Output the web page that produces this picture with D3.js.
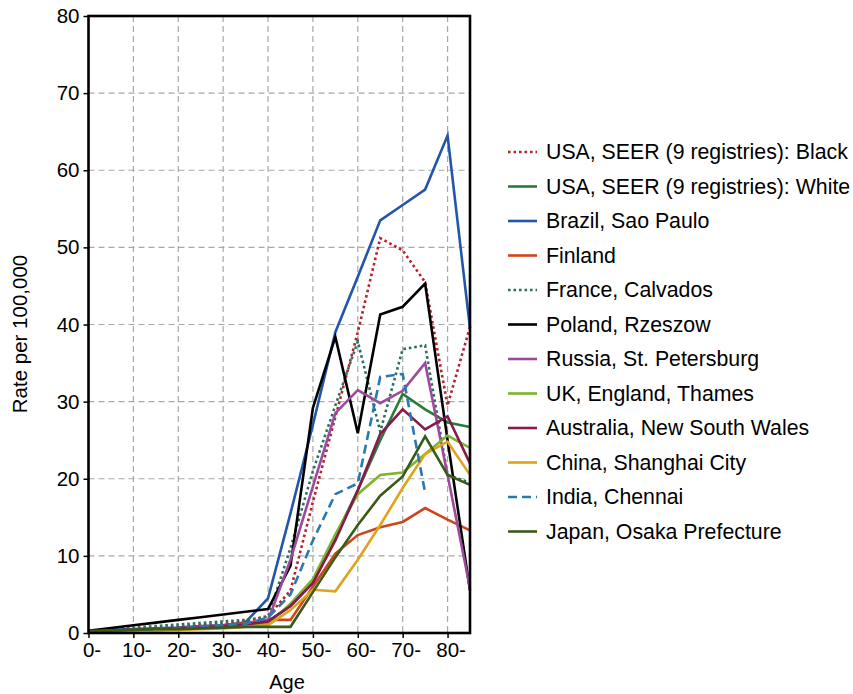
<!DOCTYPE html>
<html>
<head>
<meta charset="utf-8">
<script src="https://cdn.jsdelivr.net/npm/d3@7"></script>
<style>
  html, body { margin: 0; padding: 0; background: #fff; }
  svg { display: block; font-family: "Liberation Sans", Arial, sans-serif; }
</style>
</head>
<body>
<svg id="chart" width="853" height="694"></svg>
<script>
// Age groups (start of each 5-year band)
const ages = [0, 5, 10, 15, 20, 25, 30, 35, 40, 45, 50, 55, 60, 65, 70, 75, 80, 85];
const xTickValues = [0, 10, 20, 30, 40, 50, 60, 70, 80];
const xTickLabels = ["0-", "10-", "20-", "30-", "40-", "50-", "60-", "70-", "80-"];
const yTickValues = [0, 10, 20, 30, 40, 50, 60, 70, 80];

// Rates per 100,000 by age group
const usaBlack   = [0.3, 0.4, 0.5, 0.6, 0.8, 1.0, 1.2, 1.5, 2.2, 5.5, 17, 28, 39, 51.2, 49.6, 45.5, 29.5, 39.7];
const usaWhite   = [0.2, 0.2, 0.3, 0.4, 0.5, 0.6, 0.8, 1.0, 1.5, 3.5, 6.5, 12.5, 18.5, 25, 31, 29, 27.3, 26.7];
const brazil     = [0.3, 0.4, 0.5, 0.6, 0.7, 0.9, 1.0, 1.4, 4.5, 15.5, 27, 39, 46.2, 53.5, 55.5, 57.5, 64.5, 39.5];
const finland    = [0.2, 0.3, 0.4, 0.5, 0.6, 0.8, 1.0, 1.3, 1.7, 1.7, 6.0, 10.3, 12.7, 13.7, 14.4, 16.2, 14.7, 13.3];
const france     = [0.3, 0.5, 0.7, 0.9, 1.1, 1.3, 1.5, 1.7, 2.1, 11, 21, 29.5, 37.8, 26.1, 36.8, 37.3, 20.5, 19.5];
const poland     = [0.3, 0.65, 1.0, 1.35, 1.7, 2.05, 2.4, 2.75, 3.1, 8.7, 29.2, 38.4, 25.9, 41.3, 42.3, 45.3, 25, 5.5];
const russia     = [0.2, 0.3, 0.4, 0.5, 0.6, 0.8, 1.0, 1.2, 1.6, 9.5, 19, 28.5, 31.5, 29.8, 31.4, 35, 20.5, 5.8];
const ukThames   = [0.2, 0.2, 0.3, 0.4, 0.5, 0.6, 0.7, 0.9, 1.2, 3.8, 7, 12.8, 18, 20.5, 20.8, 23.2, 25.6, 24];
const australia  = [0.2, 0.3, 0.4, 0.5, 0.6, 0.7, 0.9, 1.1, 1.5, 3.5, 6.5, 12, 18.5, 25.8, 29, 26.4, 28.1, 22];
const china      = [0.1, 0.2, 0.2, 0.3, 0.4, 0.5, 0.6, 0.8, 1.0, 3.0, 5.6, 5.4, 9.5, 14, 18.8, 23.2, 24.8, 20.5];
const india      = [0.2, 0.3, 0.4, 0.5, 0.6, 0.8, 1.0, 1.2, 2.0, 5.0, 12, 18, 19.4, 33.2, 33.6, 18.2, null, null];
const japan      = [0.3, 0.3, 0.4, 0.5, 0.5, 0.6, 0.7, 0.8, 0.8, 0.8, 5.3, 9.8, 14, 17.8, 20.3, 25.5, 20.5, 19.2];

const seriesNames = [
  "USA, SEER (9 registries): Black",
  "USA, SEER (9 registries): White",
  "Brazil, Sao Paulo",
  "Finland",
  "France, Calvados",
  "Poland, Rzeszow",
  "Russia, St. Petersburg",
  "UK, England, Thames",
  "Australia, New South Wales",
  "China, Shanghai City",
  "India, Chennai",
  "Japan, Osaka Prefecture"
];
const seriesValues = [usaBlack, usaWhite, brazil, finland, france, poland, russia, ukThames, australia, china, india, japan];
const seriesColors = ["#b5222a", "#2a7b35", "#2356a8", "#cc461c", "#2e6e5c", "#000000",
                      "#9c4a9e", "#7ab52a", "#861a4c", "#e2a21e", "#2a78b0", "#3a5a18"];
const seriesDash   = ["2.6,2.9", null, null, null, "2.6,2.9", null, null, null, null, null, "9,5", null];

const series = seriesNames.map((name, i) => ({
  name, color: seriesColors[i], dash: seriesDash[i],
  points: ages.map((a, j) => ({ age: a, value: seriesValues[i][j] }))
}));

const svg = d3.select("#chart");
const plotLeft = 88.5, plotRight = 470, plotTop = 16, plotBottom = 633;

const x = d3.scaleLinear().domain([0, 85]).range([plotLeft, plotRight]);
const y = d3.scaleLinear().domain([0, 80]).range([plotBottom, plotTop]);

// grid
const grid = svg.append("g").attr("stroke", "#a8a8a8").attr("stroke-width", 1.2).attr("stroke-dasharray", "6,4");
grid.selectAll("line.h").data(yTickValues.filter(v => v > 0 && v < 80)).join("line")
  .attr("x1", plotLeft).attr("x2", plotRight).attr("y1", d => y(d)).attr("y2", d => y(d));
grid.selectAll("line.v").data(xTickValues.filter(v => v > 0)).join("line")
  .attr("x1", d => x(d)).attr("x2", d => x(d)).attr("y1", plotTop).attr("y2", plotBottom);

// series lines
const line = d3.line()
  .defined(d => d.value != null)
  .x(d => x(d.age)).y(d => y(d.value));

svg.append("g").selectAll("path").data(series).join("path")
  .attr("d", d => line(d.points))
  .attr("fill", "none")
  .attr("stroke", d => d.color)
  .attr("stroke-width", 2.6)
  .attr("stroke-linejoin", "miter")
  .attr("stroke-dasharray", d => d.dash);

// frame
svg.append("rect").attr("x", plotLeft).attr("y", plotTop)
  .attr("width", plotRight - plotLeft).attr("height", plotBottom - plotTop)
  .attr("fill", "none").attr("stroke", "#000").attr("stroke-width", 2.6);

// axes
const yAxis = d3.axisLeft(y).tickValues(yTickValues).tickSize(5).tickPadding(4);
const gy = svg.append("g").attr("transform", `translate(${plotLeft},0)`).call(yAxis);
gy.select(".domain").remove();
gy.selectAll(".tick line").attr("stroke-width", 1.5);
gy.selectAll(".tick text").attr("font-size", 20.5).attr("font-family", "Liberation Sans, Arial, sans-serif").attr("fill", "#000");

const xAxis = d3.axisBottom(x).tickValues(xTickValues).tickSize(5).tickPadding(4)
  .tickFormat((d, i) => xTickLabels[i]);
const gx = svg.append("g").attr("transform", `translate(0,${plotBottom})`).call(xAxis);
gx.select(".domain").remove();
gx.selectAll(".tick line").attr("stroke-width", 1.5);
gx.selectAll(".tick text").attr("font-size", 20.5).attr("font-family", "Liberation Sans, Arial, sans-serif")
  .attr("fill", "#000").attr("dx", 3);

// axis titles
svg.append("text").attr("x", 287).attr("y", 689).attr("text-anchor", "middle")
  .attr("font-size", 20).text("Age");
svg.append("text").attr("transform", "translate(27,334) rotate(-90)")
  .attr("text-anchor", "middle").attr("font-size", 20.5).text("Rate per 100,000");

// legend
const legend = svg.append("g").attr("transform", "translate(508,152)");
const item = legend.selectAll("g").data(series).join("g")
  .attr("transform", (d, i) => `translate(0,${i * 34.5})`);
item.append("line").attr("x1", 0).attr("x2", 29).attr("y1", 0).attr("y2", 0)
  .attr("stroke", d => d.color).attr("stroke-width", 2.6)
  .attr("stroke-dasharray", d => d.dash);
item.append("text").attr("x", 38).attr("y", 0).attr("dy", "0.35em")
  .attr("font-size", 21.3).attr("fill", "#000").text(d => d.name);
</script>
</body>
</html>
